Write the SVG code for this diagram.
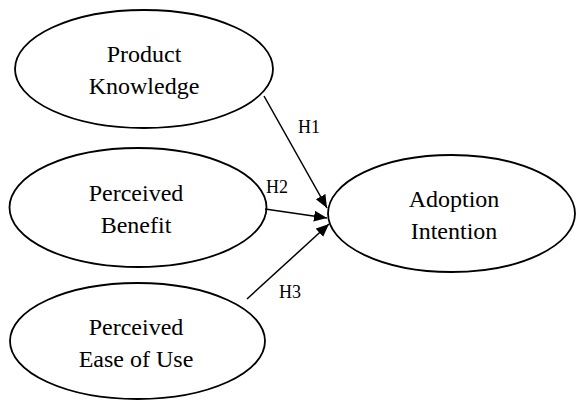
<svg xmlns="http://www.w3.org/2000/svg" width="576" height="400" viewBox="0 0 576 400">
<style>
.node ellipse{fill:#fff;stroke:#000;stroke-width:1.8}
.node text{font-family:"Liberation Serif","Times New Roman",serif;font-size:24px;fill:#000;text-anchor:middle}
.conn line{stroke:#000;stroke-width:1.5}
.lbl{font-family:"Liberation Serif","Times New Roman",serif;font-size:18px;fill:#000}
</style>
<defs>
<marker id="arr" markerUnits="userSpaceOnUse" markerWidth="14" markerHeight="12" refX="13" refY="5.5" orient="auto">
<path d="M0,0 L13,5.5 L0,11 z" fill="#000"/>
</marker>
</defs>
<rect width="576" height="400" fill="#fff"/>
<g id="pk" class="node">
<ellipse cx="144" cy="69" rx="129" ry="59"/>
<text x="144" y="62">Product</text>
<text x="144" y="94">Knowledge</text>
</g>
<g id="pb" class="node">
<ellipse cx="138" cy="207.5" rx="128.5" ry="59.5"/>
<text x="136" y="201">Perceived</text>
<text x="136" y="233">Benefit</text>
</g>
<g id="peou" class="node">
<ellipse cx="137.5" cy="341" rx="127.5" ry="58"/>
<text x="136" y="335">Perceived</text>
<text x="136" y="367">Ease of Use</text>
</g>
<g id="ai" class="node">
<ellipse cx="451.5" cy="213.5" rx="123.5" ry="58.5"/>
<text x="454" y="207">Adoption</text>
<text x="454" y="239">Intention</text>
</g>
<g id="connectors" class="conn">
<line x1="264" y1="96" x2="327" y2="208" marker-end="url(#arr)"/>
<line x1="265" y1="209" x2="327" y2="218" marker-end="url(#arr)"/>
<line x1="247" y1="299" x2="329" y2="224" marker-end="url(#arr)"/>
<text class="lbl" x="298" y="133">H1</text>
<text class="lbl" x="266" y="193">H2</text>
<text class="lbl" x="279" y="298">H3</text>
</g>
</svg>
